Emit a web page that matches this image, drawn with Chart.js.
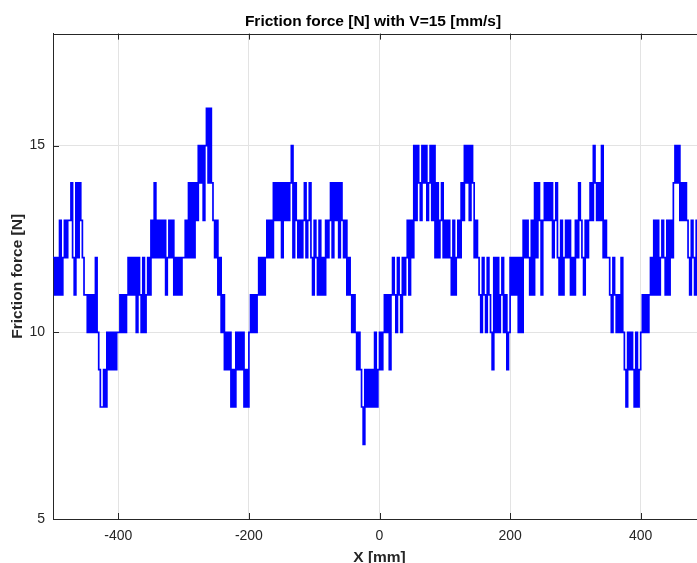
<!DOCTYPE html>
<html lang="en">
<head>
  <meta charset="UTF-8" />
  <title>Friction force</title>
  <script src="https://cdn.jsdelivr.net/npm/chart.js"></script>
  <style>
    html, body {
      margin: 0;
      padding: 0;
      background: #fff;
      overflow: hidden;
    }
    body { width: 697px; height: 563px; }
    #grafico { display: block; }
  </style>
</head>
<body>
  <canvas id="grafico" width="746" height="563"></canvas>

  <script>
    // sampling grid of the measurement [mm]
    const X_START = -500;
    const X_STEP = 2.5;

    // friction force [N], one row = 25 mm of travel
    const friccion = [
      12, 11, 12, 11, 13, 11, 12, 13, 12, 13,   // -500
      13, 14, 12, 11, 14, 12, 14, 13, 12, 11,   // -475
      11, 10, 11, 10, 11, 10, 12, 10, 9, 8,     // -450
      8, 9, 8, 10, 9, 10, 9, 10, 9, 10,         // -425
      10, 11, 10, 11, 10, 11, 12, 11, 12, 11,   // -400
      12, 10, 12, 11, 10, 12, 10, 11, 12, 11,   // -375
      13, 12, 14, 12, 13, 12, 13, 12, 13, 11,   // -350
      12, 13, 12, 13, 11, 12, 11, 12, 11, 12,   // -325
      12, 13, 12, 14, 12, 14, 12, 14, 13, 15,   // -300
      14, 15, 13, 15, 16, 14, 16, 14, 13, 12,   // -275
      13, 11, 12, 10, 11, 9, 10, 9, 10, 8,      // -250
      9, 8, 10, 9, 10, 9, 10, 8, 9, 8,          // -225
      10, 11, 10, 11, 10, 11, 12, 11, 12, 11,   // -200
      12, 13, 12, 13, 12, 14, 13, 14, 13, 14,   // -175
      12, 14, 13, 14, 13, 14, 15, 12, 14, 13,   // -150
      12, 13, 12, 13, 14, 12, 13, 14, 12, 11,   // -125
      13, 12, 11, 13, 11, 12, 11, 13, 12, 13,   // -100
      14, 12, 14, 13, 14, 12, 14, 13, 12, 13,   // -75
      11, 12, 11, 10, 11, 10, 9, 10, 9, 8,      // -50
      7, 9, 8, 9, 8, 9, 8, 10, 8, 9,            // -25
      10, 9, 10, 11, 10, 11, 9, 11, 12, 11,     // 0
      10, 12, 11, 10, 12, 11, 12, 13, 11, 13,   // 25
      12, 15, 13, 15, 14, 13, 15, 14, 15, 13,   // 50
      14, 15, 13, 15, 12, 14, 12, 13, 14, 12,   // 75
      13, 12, 13, 12, 11, 13, 11, 12, 13, 12,   // 100
      14, 13, 15, 14, 15, 13, 15, 14, 12, 13,   // 125
      12, 11, 10, 12, 11, 10, 12, 11, 10, 9,    // 150
      12, 10, 12, 10, 11, 12, 10, 11, 9, 10,    // 175
      12, 11, 12, 11, 12, 10, 12, 10, 13, 12,   // 200
      13, 12, 11, 13, 11, 14, 12, 14, 13, 11,   // 225
      13, 14, 13, 14, 13, 14, 12, 13, 14, 12,   // 250
      11, 13, 11, 12, 13, 12, 13, 11, 12, 11,   // 275
      13, 12, 14, 13, 12, 11, 13, 12, 13, 14,   // 300
      13, 15, 14, 13, 14, 13, 15, 12, 13, 12,   // 325
      12, 11, 10, 12, 11, 10, 11, 10, 12, 10,   // 350
      9, 8, 10, 9, 10, 9, 8, 10, 8, 9,          // 375
      10, 11, 10, 11, 10, 11, 12, 11, 13, 11,   // 400
      13, 11, 12, 13, 12, 11, 13, 11, 13, 12,   // 425
      14, 15, 14, 15, 13, 14, 13, 14, 13, 12,   // 450
      11, 13, 12, 11, 13, 12, 13, 12, 13, 12, 13 // 475
    ];

    const ticksX = [-400, -200, 0, 200, 400];
    const ticksY = [5, 10, 15];

    const COLOR_EJES = '#262626';
    const COLOR_REJILLA = '#e3e3e3';
    const FUENTE = 'Liberation Sans, Arial, sans-serif';

    const puntos = friccion.map((v, i) => ({ x: X_START + i * X_STEP, y: v }));

    // short inward tick marks and the top frame line
    const marcasInternas = {
      id: 'marcasInternas',
      afterDraw(chart) {
        const { ctx, chartArea: a, scales } = chart;
        ctx.save();
        ctx.strokeStyle = COLOR_EJES;
        ctx.lineWidth = 1;
        ctx.beginPath();
        ctx.moveTo(a.left, Math.round(a.top) + 0.5);
        ctx.lineTo(a.right, Math.round(a.top) + 0.5);
        ticksX.forEach(v => {
          const px = Math.round(scales.x.getPixelForValue(v)) + 0.5;
          ctx.moveTo(px, a.bottom);
          ctx.lineTo(px, a.bottom - 6);
          ctx.moveTo(px, a.top);
          ctx.lineTo(px, a.top + 6);
        });
        ticksY.forEach(v => {
          const py = Math.round(scales.y.getPixelForValue(v)) + 0.5;
          ctx.moveTo(a.left, py);
          ctx.lineTo(a.left + 6, py);
        });
        ctx.stroke();
        ctx.restore();
      }
    };

    new Chart(document.getElementById('grafico'), {
      type: 'line',
      data: {
        datasets: [{
          data: puntos,
          borderColor: '#0000ff',
          borderWidth: 1.7,
          pointRadius: 0,
          stepped: true,
          fill: false
        }]
      },
      options: {
        responsive: false,
        animation: false,
        events: [],
        layout: { padding: 0 },
        plugins: {
          legend: { display: false },
          tooltip: { enabled: false },
          title: {
            display: true,
            text: 'Friction force [N] with V=15 [mm/s]',
            color: '#000',
            font: { family: FUENTE, size: 15.5, weight: 'bold' },
            padding: { top: 12, bottom: 3 }
          }
        },
        scales: {
          x: {
            type: 'linear',
            min: -500,
            max: 500,
            afterBuildTicks: s => { s.ticks = ticksX.map(v => ({ value: v })); },
            afterFit: s => { s.height = 44; },
            grid: { color: COLOR_REJILLA, drawTicks: false },
            border: { color: COLOR_EJES, width: 1 },
            ticks: {
              padding: 9,
              maxRotation: 0,
              color: COLOR_EJES,
              font: { family: FUENTE, size: 14 }
            },
            title: {
              display: true,
              text: 'X [mm]',
              color: COLOR_EJES,
              font: { family: FUENTE, size: 15.5, weight: 'bold' },
              padding: { top: 0, bottom: -4 }
            }
          },
          y: {
            min: 5,
            max: 18,
            afterBuildTicks: s => { s.ticks = ticksY.map(v => ({ value: v })); },
            afterFit: s => { s.width = 53; },
            grid: { color: COLOR_REJILLA, drawTicks: false },
            border: { color: COLOR_EJES, width: 1 },
            ticks: {
              padding: 8,
              color: COLOR_EJES,
              font: { family: FUENTE, size: 14 }
            },
            title: {
              display: true,
              text: 'Friction force [N]',
              color: COLOR_EJES,
              font: { family: FUENTE, size: 15.5, weight: 'bold' },
              padding: { top: 8, bottom: 0 }
            }
          },
          // empty right-hand strip, the frame continues past the visible edge
          derecha: {
            type: 'linear',
            position: 'right',
            afterFit: s => { s.width = 40; },
            grid: { display: false },
            border: { display: false },
            ticks: { display: false }
          }
        }
      },
      plugins: [marcasInternas]
    });
  </script>
</body>
</html>
